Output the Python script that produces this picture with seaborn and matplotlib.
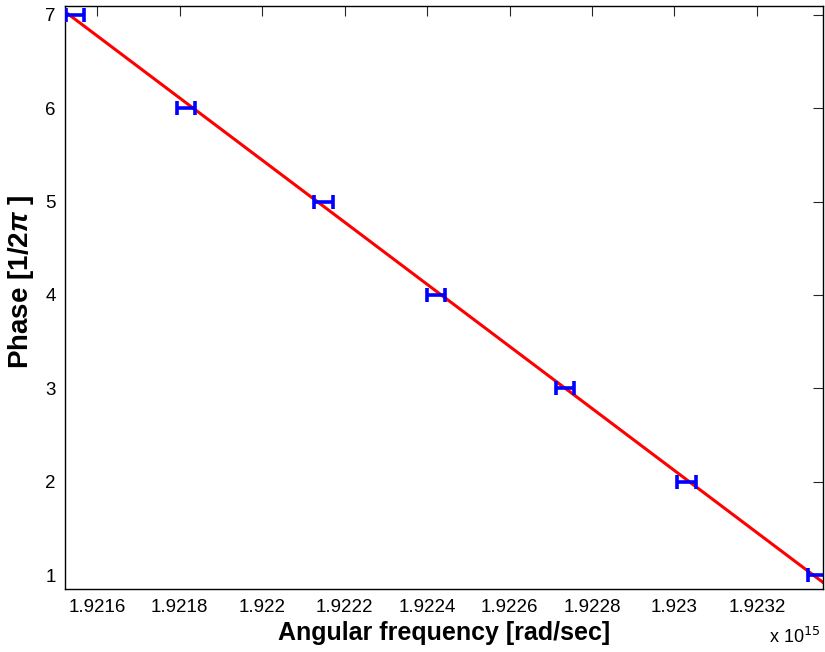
#!/usr/bin/env python3
"""Phase vs angular frequency with horizontal error bars and a linear fit."""

import numpy as np
import pandas as pd
import matplotlib
matplotlib.use("Agg")
import matplotlib.pyplot as plt
import seaborn as sns
from matplotlib.ticker import FuncFormatter, MultipleLocator

# angular frequency in units of 1e15 rad/sec
omega = [1.921546, 1.9218155, 1.922149, 1.9224216, 1.922735, 1.9230293, 1.923346]
phase = [7, 6, 5, 4, 3, 2, 1]
omega_err = [0.0000225] * 7

XLIM = (1.921523, 1.923361)
YLIM = (0.85, 7.096)

sns.set_style("white")
plt.rcParams["font.family"] = ["Liberation Sans", "DejaVu Sans"]
plt.rcParams["text.color"] = "black"
plt.rcParams["axes.labelcolor"] = "black"
plt.rcParams["mathtext.fontset"] = "custom"
plt.rcParams["mathtext.it"] = "Liberation Sans:bold:italic"
plt.rcParams["mathtext.rm"] = "Liberation Sans:bold"


def main():
    df = pd.DataFrame({"omega": omega, "phase": phase, "err": omega_err})

    fig = plt.figure(figsize=(8.25, 6.52), dpi=100)
    ax = fig.add_axes([0.0792, 0.0966, 0.9188, 0.8942])
    ax.set_xlim(*XLIM)

    # least-squares fit line spanning the axes
    sns.regplot(data=df, x="omega", y="phase", ax=ax, scatter=False, ci=None,
                truncate=False, line_kws={"color": "red", "lw": 2.2})

    ax.errorbar(df["omega"], df["phase"], xerr=df["err"], fmt="none",
                ecolor="blue", elinewidth=2.6, capsize=5, capthick=2.6, zorder=3)

    ax.set_xlim(*XLIM)
    ax.set_ylim(*YLIM)
    ax.xaxis.set_major_locator(MultipleLocator(0.0002))
    ax.yaxis.set_major_locator(MultipleLocator(1))
    ax.xaxis.set_major_formatter(FuncFormatter(lambda v, p: f"{v:.4f}".rstrip("0")))
    ax.yaxis.set_major_formatter(FuncFormatter(lambda v, p: f"{v:g}"))

    ax.tick_params(direction="in", length=7, width=0.8, labelsize=13.5,
                   top=True, right=True, colors="#262626", labelcolor="black", pad=7)
    for s in ax.spines.values():
        s.set_color("black")
        s.set_linewidth(1.0)

    ax.set_xlabel("Angular frequency [rad/sec]", fontsize=18, fontweight="bold", labelpad=4)
    ax.set_ylabel(r"Phase [1/2$\pi$ ]", fontsize=20, fontweight="bold")
    ax.yaxis.set_label_coords(-0.039, 0.527)
    fig.text(0.963, 0.008, r"x 10$^{15}$", fontsize=13, ha="center", va="bottom",
             math_fontfamily="dejavusans")

    fig.savefig("out.png", dpi=100, facecolor="white")
    plt.close(fig)


if __name__ == "__main__":
    main()
